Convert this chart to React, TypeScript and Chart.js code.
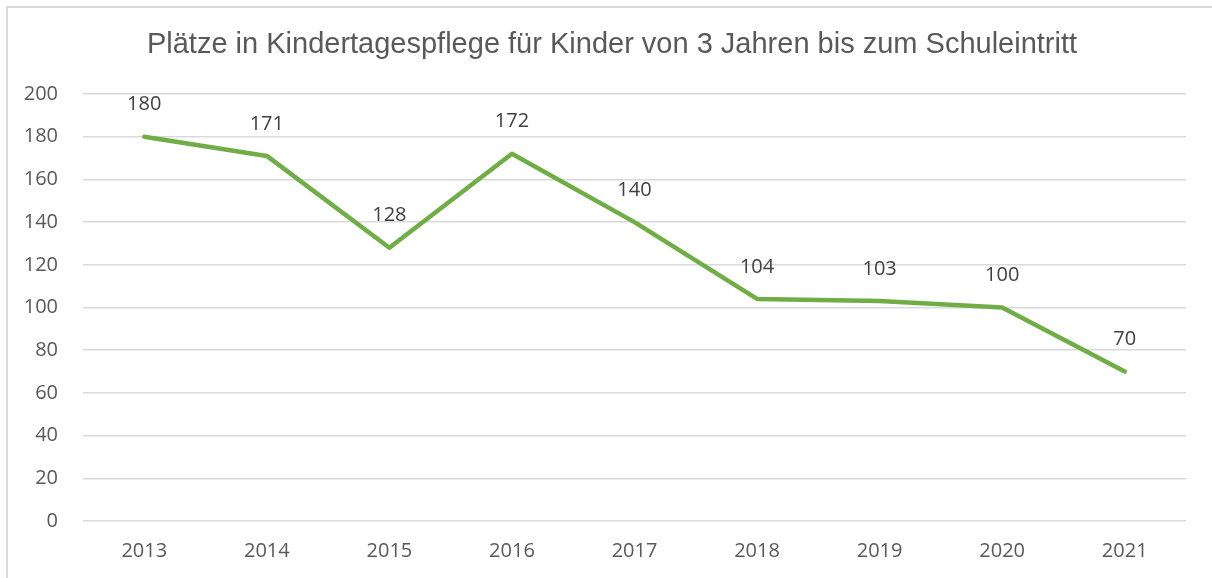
import React, { useEffect, useRef } from "react";
import { Chart, registerables } from "chart.js";

Chart.register(...registerables);

const TITLE = "Plätze in Kindertagespflege für Kinder von 3 Jahren bis zum Schuleintritt";
const years = ["2013", "2014", "2015", "2016", "2017", "2018", "2019", "2020", "2021"];
const places = [180, 171, 128, 172, 140, 104, 103, 100, 70];
const yMin = 0;
const yMax = 200;
const yStep = 20;

const TICK_FONT = "'Open Sans', 'Liberation Sans', sans-serif";

const titlePlugin = {
  id: "customTitle",
  afterDraw(chart: any) {
    const ctx = chart.ctx;
    ctx.save();
    ctx.font = `29px 'Liberation Sans', Arial, sans-serif`;
    ctx.fillStyle = "#595959";
    ctx.textAlign = "center";
    ctx.textBaseline = "middle";
    ctx.fillText(TITLE, 612, 45);
    ctx.restore();
  },
};

const dataLabelPlugin = {
  id: "dataLabels",
  afterDatasetsDraw(chart: any) {
    const ctx = chart.ctx;
    const meta = chart.getDatasetMeta(0);
    ctx.save();
    ctx.font = `20px ${TICK_FONT}`;
    ctx.fillStyle = "#404040";
    ctx.textAlign = "center";
    ctx.textBaseline = "middle";
    meta.data.forEach((pt: any, i: number) => {
      ctx.fillText(String(places[i]), pt.x, pt.y - 32);
    });
    ctx.restore();
  },
};

export default function App() {
  const ref = useRef<HTMLCanvasElement | null>(null);
  useEffect(() => {
    if (!ref.current) return;
    const chart = new Chart(ref.current, {
      type: "line",
      data: {
        labels: years,
        datasets: [
          {
            data: places,
            borderColor: "#70AD47",
            backgroundColor: "#70AD47",
            borderWidth: 4.5,
            pointRadius: 0,
            borderCapStyle: "round",
            borderJoinStyle: "round",
            tension: 0,
          },
        ],
      },
      options: {
        animation: false,
        responsive: false,
        maintainAspectRatio: false,
        layout: { padding: { left: 0, right: 26, top: 94, bottom: 0 } },
        plugins: {
          legend: { display: false },
          tooltip: { enabled: false },
          title: { display: false },
        },
        scales: {
          x: {
            offset: true,
            grid: { display: false, drawTicks: false },
            border: { display: false },
            ticks: {
              color: "#595959",
              font: { family: TICK_FONT, size: 20 },
              padding: 18,
              maxRotation: 0,
            },
            afterFit: (s: any) => {
              s.height = 57;
            },
          },
          y: {
            min: yMin,
            max: yMax,
            grid: { color: "#D9D9D9", lineWidth: 1.5, drawTicks: false },
            border: { display: false },
            ticks: {
              stepSize: yStep,
              color: "#595959",
              font: { family: TICK_FONT, size: 20 },
              padding: 25,
            },
            afterFit: (s: any) => {
              s.width = 83;
            },
          },
        },
      },
      plugins: [dataLabelPlugin, titlePlugin],
    });
    return () => chart.destroy();
  }, []);

  return (
    <div style={{ position: "absolute", left: 0, top: 0, width: 1212, height: 578, overflow: "hidden", background: "#fff" }}>
      <div
        style={{
          position: "absolute",
          left: 6,
          top: 6,
          width: 1240,
          height: 600,
          border: "2px solid #D9D9D9",
          boxSizing: "border-box",
        }}
      />
      <canvas ref={ref} width={1212} height={578} style={{ position: "absolute", left: 0, top: 0, display: "block" }} />
    </div>
  );
}
